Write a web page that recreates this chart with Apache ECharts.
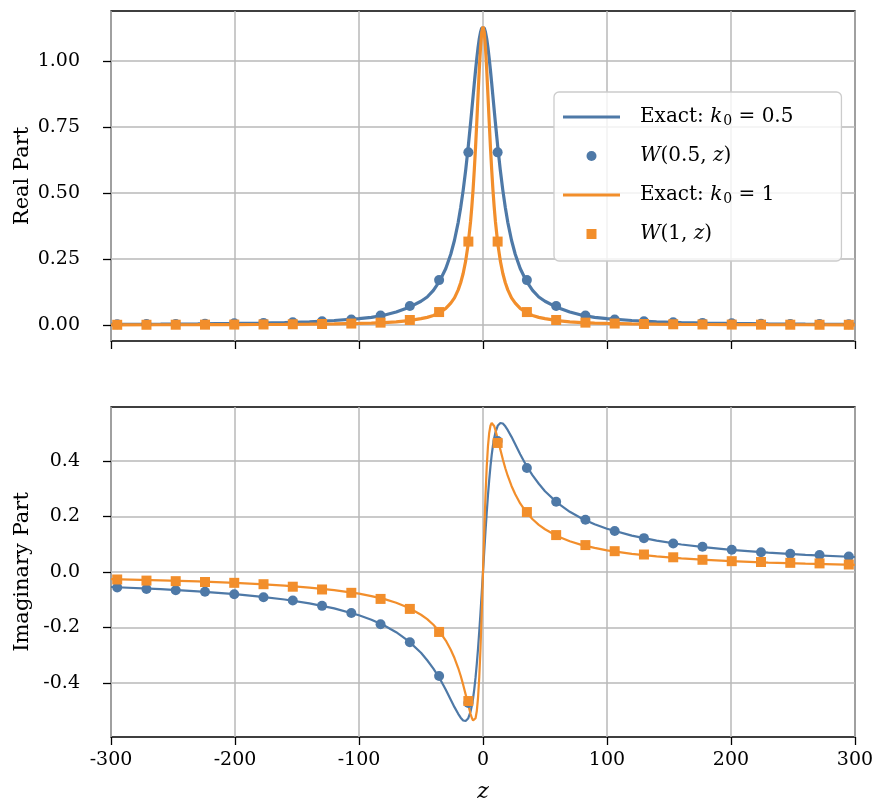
<!DOCTYPE html>
<html><head><meta charset="utf-8">
<script src="https://cdn.jsdelivr.net/npm/echarts@6/dist/echarts.min.js"></script>
<style>html,body{margin:0;padding:0;background:#fff}#c{width:875px;height:801px}</style>
</head><body><div id="c"></div>
<script>
// ---- data ----
const zCurve = [-300,-260,-230,-200,-180,-160,-140,-120,-100,-90,-80,-70,-60,-50,-45,-40,-35,-30,-26,-23,-20,-18,-16,-14,-12,-10,-9,-8,-7,-6,-5,-4,-3,-2,-1,
  0,1,2,3,4,5,6,7,8,9,10,12,14,16,18,20,23,26,30,35,40,45,50,60,70,80,90,100,120,140,160,180,200,230,260,300];
const reExact05 = [0.0026,0.0035,0.0045,0.0059,0.0073,0.0092,0.012,0.017,0.024,0.029,0.037,0.049,0.066,0.090,0.106,0.131,0.166,0.214,0.268,0.321,0.389,0.445,0.510,0.585,0.671,0.766,0.816,0.866,0.916,0.965,1.010,1.050,1.084,1.109,1.125,
  1.130,1.125,1.109,1.084,1.050,1.010,0.965,0.916,0.866,0.816,0.766,0.671,0.585,0.510,0.445,0.389,0.321,0.268,0.214,0.166,0.131,0.106,0.090,0.066,0.049,0.037,0.029,0.024,0.017,0.012,0.0092,0.0073,0.0059,0.0045,0.0035,0.0026];
const reExact1 = [0.0007,0.0009,0.0011,0.0015,0.0019,0.0024,0.0031,0.0042,0.006,0.0074,0.0093,0.012,0.0165,0.024,0.029,0.036,0.047,0.063,0.083,0.103,0.133,0.160,0.195,0.242,0.305,0.393,0.448,0.513,0.589,0.674,0.769,0.869,0.967,1.051,1.109,
  1.130,1.109,1.051,0.967,0.869,0.769,0.674,0.589,0.513,0.448,0.393,0.305,0.242,0.195,0.160,0.133,0.103,0.083,0.063,0.047,0.036,0.029,0.024,0.0165,0.012,0.0093,0.0074,0.006,0.0042,0.0031,0.0024,0.0019,0.0015,0.0011,0.0009,0.0007];
const imExact05 = [-0.054,-0.062,-0.070,-0.080,-0.089,-0.099,-0.113,-0.131,-0.156,-0.172,-0.192,-0.217,-0.249,-0.291,-0.318,-0.348,-0.383,-0.424,-0.460,-0.487,-0.511,-0.525,-0.535,-0.537,-0.528,-0.502,-0.482,-0.455,-0.421,-0.380,-0.331,-0.276,-0.213,-0.146,-0.074,
  0,0.074,0.146,0.213,0.276,0.331,0.380,0.421,0.455,0.482,0.502,0.528,0.537,0.535,0.525,0.511,0.487,0.460,0.424,0.383,0.348,0.318,0.291,0.249,0.217,0.192,0.172,0.156,0.131,0.113,0.099,0.089,0.080,0.070,0.062,0.054];
const imExact1 = [-0.026,-0.030,-0.034,-0.039,-0.044,-0.049,-0.056,-0.065,-0.078,-0.087,-0.097,-0.111,-0.129,-0.154,-0.170,-0.190,-0.215,-0.247,-0.280,-0.310,-0.346,-0.374,-0.406,-0.441,-0.477,-0.512,-0.526,-0.535,-0.537,-0.527,-0.501,-0.453,-0.378,-0.274,-0.145,
  0,0.145,0.274,0.378,0.453,0.501,0.527,0.537,0.535,0.526,0.512,0.477,0.441,0.406,0.374,0.346,0.310,0.280,0.247,0.215,0.190,0.170,0.154,0.129,0.111,0.097,0.087,0.078,0.065,0.056,0.049,0.044,0.039,0.034,0.030,0.026];

const zMarker = [-295,-271.4,-247.8,-224.2,-200.6,-177,-153.4,-129.8,-106.2,-82.6,-59,-35.4,-11.8,11.8,35.4,59,82.6,106.2,129.8,153.4,177,200.6,224.2,247.8,271.4,295];
const reW05 = [0.0028,0.0034,0.004,0.005,0.0063,0.008,0.0105,0.0145,0.021,0.036,0.072,0.170,0.654,0.654,0.170,0.072,0.036,0.021,0.0145,0.0105,0.008,0.0063,0.005,0.004,0.0034,0.0028];
const reW1 = [0.0008,0.0009,0.0011,0.0013,0.0016,0.002,0.0027,0.0037,0.0055,0.009,0.019,0.049,0.316,0.316,0.049,0.019,0.009,0.0055,0.0037,0.0027,0.002,0.0016,0.0013,0.0011,0.0009,0.0008];
const imW05 = [-0.056,-0.061,-0.066,-0.071,-0.080,-0.091,-0.103,-0.122,-0.148,-0.188,-0.253,-0.375,-0.472,0.472,0.375,0.253,0.188,0.148,0.122,0.103,0.091,0.080,0.071,0.066,0.061,0.056];
const imW1 = [-0.027,-0.031,-0.033,-0.036,-0.039,-0.044,-0.053,-0.063,-0.075,-0.097,-0.133,-0.216,-0.465,0.465,0.216,0.133,0.097,0.075,0.063,0.053,0.044,0.039,0.036,0.033,0.031,0.027];

const xTicks = [-300,-200,-100,0,100,200,300];
const reTicks = [0,0.25,0.5,0.75,1.0];
const imTicks = [-0.4,-0.2,0,0.2,0.4];

// ---- chart ----
const BLUE = '#4e79a7', ORANGE = '#f28e2b';
const FONT = 'DejaVu Serif';
const zip = (xs, ys) => xs.map((x, i) => [x, ys[i]]);

const legendText = {
  e05: 'Exact: {i|k}{s|0} = 0.5',
  w05: '{i|W}(0.5, {i|z})',
  e1: 'Exact: {i|k}{s|0} = 1',
  w1: '{i|W}(1, {i|z})'
};

function xAxisOf(g, labels) {
  return {
    gridIndex: g, type: 'value', min: -300, max: 300, interval: 100,
    axisLine: {show: false, onZero: false},
    axisTick: {show: true, length: 8, lineStyle: {color: '#000', width: 1.3}},
    axisLabel: {show: labels, margin: 14, fontSize: 19, fontFamily: FONT, color: '#000',
      showMinLabel: true, showMaxLabel: true},
    splitLine: {show: true, lineStyle: {color: '#b8b8b8', width: 1.5}},
    name: labels ? 'z' : '', nameLocation: 'middle', nameGap: 44, nameMoveOverlap: false,
    nameTextStyle: {fontFamily: FONT, fontStyle: 'italic', fontSize: 22, color: '#000'}
  };
}
function yAxisOf(g, min, max, ticks, digits, name) {
  return {
    gridIndex: g, type: 'value', min: min, max: max,
    axisLine: {show: false, onZero: false},
    axisTick: {show: true, length: 8, customValues: ticks, lineStyle: {color: '#000', width: 1.3}},
    axisLabel: {show: true, customValues: ticks, margin: 31, fontSize: 19, fontFamily: FONT, color: '#000',
      formatter: v => v.toFixed(digits)},
    splitLine: {show: true, lineStyle: {color: '#b8b8b8', width: 1.5}},
    name: name, nameLocation: 'middle', nameGap: 78, nameRotate: 90, nameMoveOverlap: false,
    nameTextStyle: {fontFamily: FONT, fontSize: 21, color: '#000'}
  };
}
function lineS(name, g, ys, color, w) {
  return {name, type: 'line', xAxisIndex: g, yAxisIndex: g, data: zip(zCurve, ys),
    symbol: 'none', smooth: false, lineStyle: {color, width: w}, itemStyle: {color}, z: 3, silent: true, animation: false};
}
function markS(name, g, ys, color, sym) {
  return {name, type: 'scatter', xAxisIndex: g, yAxisIndex: g, data: zip(zMarker, ys),
    symbol: sym, symbolSize: 10, itemStyle: {color, opacity: 1}, z: 4, silent: true, animation: false};
}

const LINE_ICON = 'path://M0 0H57V3H0Z';
const SQUARE_ICON = 'path://M0 0H10V10H0Z';

const option = {
  animation: false,
  backgroundColor: '#fff',
  grid: [
    {left: 111, right: 20, top: 11, height: 330, outerBoundsMode: 'none', containLabel: false,
      show: true, borderColor: '#000', borderWidth: 1.3, backgroundColor: 'transparent'},
    {left: 111, right: 20, top: 407, height: 330, outerBoundsMode: 'none', containLabel: false,
      show: true, borderColor: '#000', borderWidth: 1.3, backgroundColor: 'transparent'}
  ],
  xAxis: [xAxisOf(0, false), xAxisOf(1, true)],
  yAxis: [
    yAxisOf(0, -0.0606, 1.1894, reTicks, 2, 'Real Part'),
    yAxisOf(1, -0.5946, 0.5946, imTicks, 1, 'Imaginary Part')
  ],
  legend: {
    data: [
      {name: 'e05', icon: LINE_ICON},
      {name: 'w05', icon: 'circle'},
      {name: 'e1', icon: LINE_ICON},
      {name: 'w1', icon: SQUARE_ICON}
    ],
    orient: 'vertical', left: 554, top: 92,
    itemWidth: 57, itemHeight: 10, itemGap: 15, padding: [13, 48, 15, 9],
    symbolKeepAspect: true,
    backgroundColor: 'rgba(255,255,255,0.8)', borderColor: '#cccccc', borderWidth: 1.3, borderRadius: 5,
    selectedMode: false,
    formatter: n => legendText[n],
    textStyle: {
      fontFamily: FONT, fontSize: 20, color: '#000', lineHeight: 24, padding: [0, 0, 0, 15],
      rich: {
        i: {fontFamily: FONT, fontStyle: 'italic', fontSize: 20, color: '#000', lineHeight: 24},
        s: {fontFamily: FONT, fontSize: 14, color: '#000', padding: [9, 0, 0, 1]}
      }
    }
  },
  series: [
    lineS('e05', 0, reExact05, BLUE, 3.2),
    markS('w05', 0, reW05, BLUE, 'circle'),
    lineS('e1', 0, reExact1, ORANGE, 3.2),
    markS('w1', 0, reW1, ORANGE, 'rect'),
    lineS('e05', 1, imExact05, BLUE, 2.2),
    markS('w05', 1, imW05, BLUE, 'circle'),
    lineS('e1', 1, imExact1, ORANGE, 2.2),
    markS('w1', 1, imW1, ORANGE, 'rect')
  ]
};
const chart = echarts.init(document.getElementById('c'), null, {renderer: 'canvas'});
chart.setOption(option);
</script>
</body></html>
